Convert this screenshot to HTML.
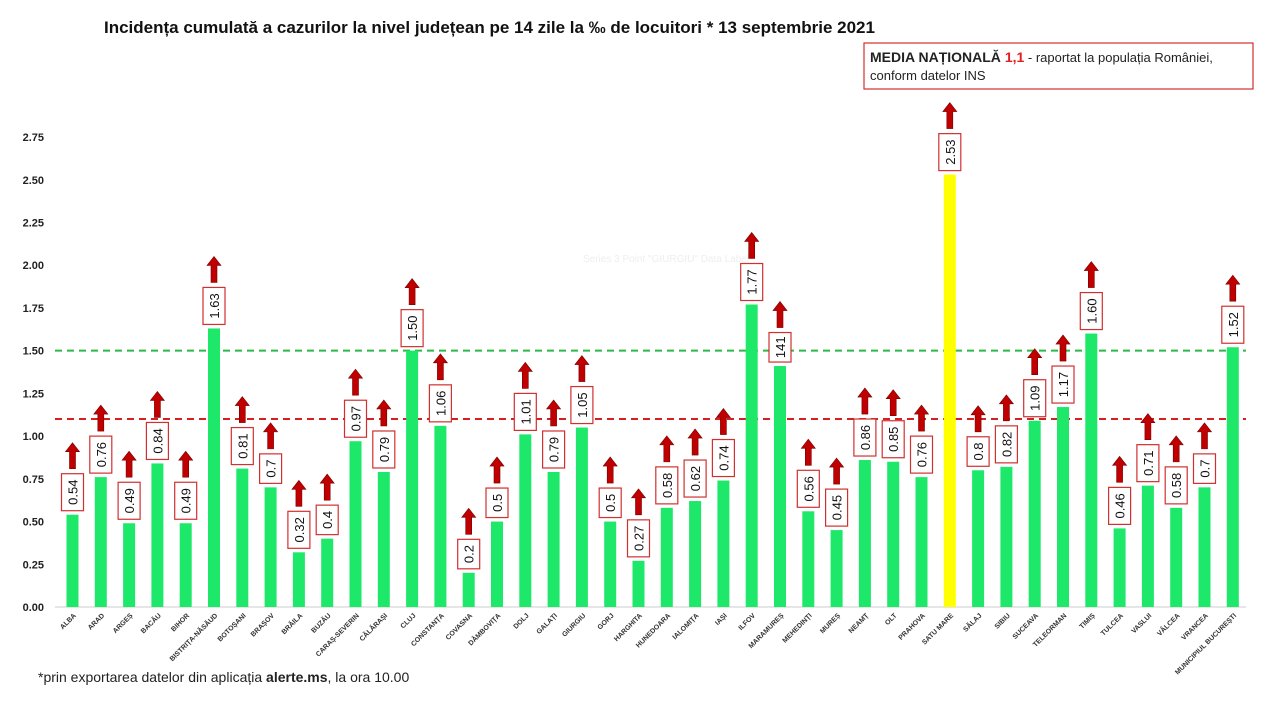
<!DOCTYPE html>
<html><head><meta charset="utf-8"><style>
body{margin:0;background:#fff;width:1284px;height:704px;overflow:hidden;font-family:"Liberation Sans",sans-serif}
</style></head><body>
<svg width="1284" height="704" xmlns="http://www.w3.org/2000/svg" font-family="Liberation Sans, sans-serif">
<text x="104" y="33" font-size="17" font-weight="bold" fill="#111">Incidența cumulată a cazurilor la nivel județean pe 14 zile la ‰ de locuitori * 13 septembrie 2021</text>
<g>
<rect x="864" y="43" width="389" height="46" fill="#fff" stroke="#d03030" stroke-width="1.2"/>
<text x="870" y="62" font-size="13" fill="#222"><tspan font-weight="bold" font-size="14">MEDIA NAȚIONALĂ </tspan><tspan font-weight="bold" font-size="14" fill="#e02020">1,1</tspan> - raportat la populația României,</text>
<text x="870" y="80" font-size="13" fill="#222">conform datelor INS</text>
</g>
<text x="583" y="262" font-size="10" fill="#eee">Series 3 Point "GIURGIU" Data Label</text>
<g id="axes"></g>
<g id="bars"></g>
<text x="38" y="682" font-size="14" fill="#222">*prin exportarea datelor din aplicația <tspan font-weight="bold">alerte.ms</tspan>, la ora 10.00</text>
</svg>
<script>
const categories=["ALBA","ARAD","ARGEȘ","BACĂU","BIHOR","BISTRIȚA-NĂSĂUD","BOTOȘANI","BRAȘOV","BRĂILA","BUZĂU","CARAȘ-SEVERIN","CĂLĂRAȘI","CLUJ","CONSTANȚA","COVASNA","DÂMBOVIȚA","DOLJ","GALAȚI","GIURGIU","GORJ","HARGHITA","HUNEDOARA","IALOMIȚA","IAȘI","ILFOV","MARAMUREȘ","MEHEDINȚI","MUREȘ","NEAMȚ","OLT","PRAHOVA","SATU MARE","SĂLAJ","SIBIU","SUCEAVA","TELEORMAN","TIMIȘ","TULCEA","VASLUI","VÂLCEA","VRANCEA","MUNICIPIUL BUCUREȘTI"];
const values=[0.54,0.76,0.49,0.84,0.49,1.63,0.81,0.7,0.32,0.4,0.97,0.79,1.50,1.06,0.2,0.5,1.01,0.79,1.05,0.5,0.27,0.58,0.62,0.74,1.77,1.41,0.56,0.45,0.86,0.85,0.76,2.53,0.8,0.82,1.09,1.17,1.60,0.46,0.71,0.58,0.7,1.52];
const valueLabels=["0.54","0.76","0.49","0.84","0.49","1.63","0.81","0.7","0.32","0.4","0.97","0.79","1.50","1.06","0.2","0.5","1.01","0.79","1.05","0.5","0.27","0.58","0.62","0.74","1.77","141","0.56","0.45","0.86","0.85","0.76","2.53","0.8","0.82","1.09","1.17","1.60","0.46","0.71","0.58","0.7","1.52"];
const yTicks=[0,0.25,0.5,0.75,1,1.25,1.5,1.75,2,2.25,2.5,2.75];
const refLines=[1.5,1.1];
const NS="http://www.w3.org/2000/svg";
const y=v=>607-v*170.9;
const x=i=>72.5+i*28.3;
function mk(t,a,p){const e=document.createElementNS(NS,t);for(const k in a)e.setAttribute(k,a[k]);p.appendChild(e);return e;}
const ax=document.getElementById('axes'),bg=document.getElementById('bars');
yTicks.forEach(v=>{const t=mk('text',{x:44,y:y(v)+4,'font-size':11,'font-weight':'bold','text-anchor':'end',fill:'#222'},ax);t.textContent=v.toFixed(2);

});
const base=mk('line',{x1:55,x2:1246,y1:607,y2:607,stroke:'#ccc'},ax);


const cols=['#2db84a','#d42020'];
refLines.forEach((v,k)=>{const l=mk('line',{x1:55,x2:1246,y1:y(v),y2:y(v),stroke:cols[k],'stroke-width':2,'stroke-dasharray':'7,5'},ax);

});
categories.forEach((c,i)=>{
 const cx=x(i),v=values[i],top=y(v);
 const b=mk('rect',{x:cx-6,y:top,width:12,height:607-top,fill:i==31?'#ffff00':'#1ee86a'},bg);
 
 
 const lab=valueLabels[i];const h=lab.length*7.5+7;const bb=top-4;
 const box=mk('rect',{x:cx-11,y:bb-h,width:22,height:h,fill:'#fff',stroke:'#d03030','stroke-width':1.2},bg);
 
 
 const t=mk('text',{x:0,y:0,'font-size':13,fill:'#111','text-anchor':'middle',transform:`translate(${cx+5},${bb-h/2}) rotate(-90)`},bg);t.textContent=lab;
 
 
 const ab=bb-h-5,at=ab-26;
 const ar=mk('path',{d:`M${cx-3} ${ab}V${at+9}H${cx-7}L${cx} ${at}L${cx+7} ${at+9}H${cx+3}V${ab}Z`,fill:'#c00000',stroke:'#700',"stroke-width":0.6},bg);
 
 
 const cl=mk('text',{x:0,y:0,'font-size':7,'font-weight':'bold',fill:'#333','text-anchor':'end',transform:`translate(${cx+4},${616}) rotate(-45)`},ax);cl.textContent=c;
 
 
});
</script>
</body></html>
